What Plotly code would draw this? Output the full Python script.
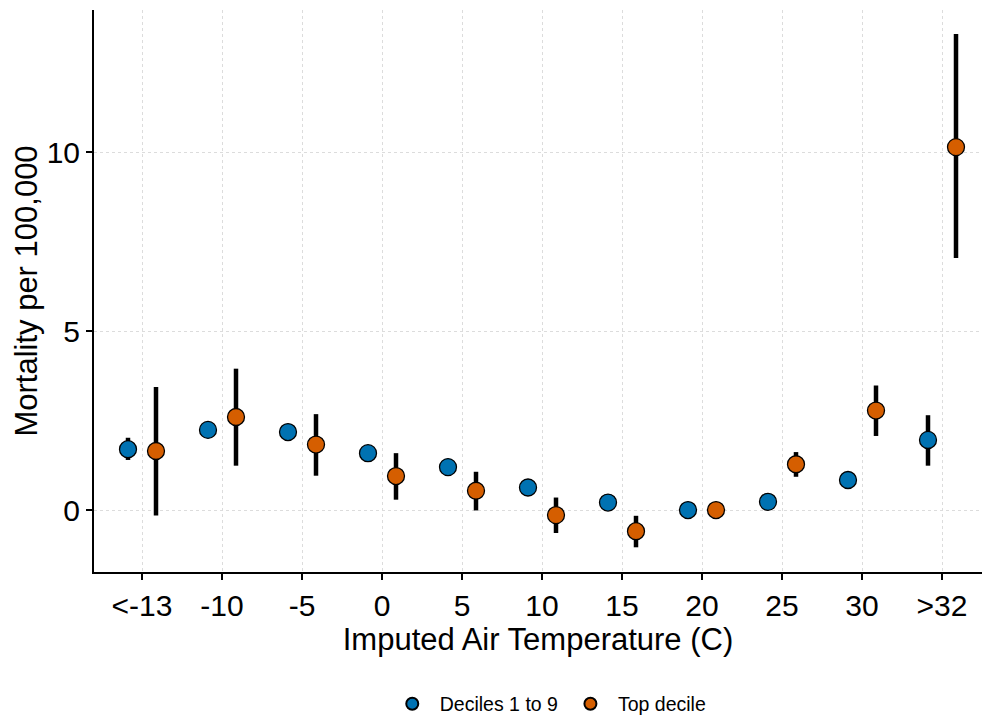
import plotly.graph_objects as go

categories = ["<-13", "-10", "-5", "0", "5", "10", "15", "20", "25", "30", ">32"]

low_est = [1.70, 2.24, 2.18, 1.59, 1.20, 0.63, 0.21, 0.00, 0.23, 0.84, 1.96]
low_hi = [2.02, 2.34, 2.28, 1.69, 1.30, 0.73, 0.31, 0.00, 0.33, 0.94, 2.65]
low_lo = [1.40, 2.14, 2.08, 1.49, 1.10, 0.53, 0.11, 0.00, 0.13, 0.74, 1.24]

top_est = [1.65, 2.60, 1.83, 0.95, 0.54, -0.14, -0.59, 0.00, 1.28, 2.78, 10.14]
top_hi = [3.44, 3.95, 2.68, 1.59, 1.07, 0.35, -0.16, 0.00, 1.62, 3.48, 13.30]
top_lo = [-0.15, 1.24, 0.96, 0.29, -0.01, -0.64, -1.04, 0.00, 0.93, 2.07, 7.04]

y_ticks = [0, 5, 10]

FONT = "Liberation Sans, Arial, Helvetica, sans-serif"


def trace(name, est, hi, lo, color):
    return go.Scatter(
        x=categories, y=est, name=name, mode="markers",
        marker=dict(size=17, color=color, line=dict(color="black", width=1.3)),
        error_y=dict(type="data", symmetric=False,
                     array=[h - e for h, e in zip(hi, est)],
                     arrayminus=[e - l for e, l in zip(est, lo)],
                     color="black", thickness=4.5, width=0),
    )


fig = go.Figure()
fig.add_trace(trace("Deciles 1 to 9", low_est, low_hi, low_lo, "#0072B2"))
fig.add_trace(trace("Top decile", top_est, top_hi, top_lo, "#D55E00"))

fig.update_layout(
    width=982, height=717,
    margin=dict(l=94, r=0, t=10, b=145, autoexpand=False),
    plot_bgcolor="white", paper_bgcolor="white",
    scattermode="group", scattergap=0.3,
    font=dict(family=FONT, color="black"),
    showlegend=True,
    legend=dict(orientation="h", x=0.511, xanchor="center",
                yref="container", y=0.018, yanchor="middle",
                font=dict(size=19.5, color="black"), itemsizing="constant",
                itemwidth=45),
)
fig.update_xaxes(
    type="category", categoryorder="array", categoryarray=categories,
    range=[-0.6, 10.5], automargin=False,
    showline=True, linecolor="black", linewidth=2,
    ticks="outside", ticklen=6, tickwidth=1.5, tickcolor="black",
    tickfont=dict(size=30, color="black"),
    showgrid=True, gridcolor="#dcdcdc", griddash="dot", gridwidth=1,
    zeroline=False,
    title=dict(text="Imputed Air Temperature (C)", font=dict(size=31, color="black"), standoff=2),
)
fig.update_yaxes(
    range=[-1.73, 13.97], automargin=False,
    tickvals=y_ticks,
    showline=True, linecolor="black", linewidth=2,
    ticks="outside", ticklen=6, tickwidth=1.5, tickcolor="black",
    tickfont=dict(size=30, color="black"),
    showgrid=True, gridcolor="#dcdcdc", griddash="dot", gridwidth=1,
    zeroline=False,
    title=dict(text="Mortality per 100,000", font=dict(size=31, color="black"), standoff=0),
)

fig.write_html("out.html", config={"displayModeBar": False},
               post_script="document.body.style.margin='0';")
